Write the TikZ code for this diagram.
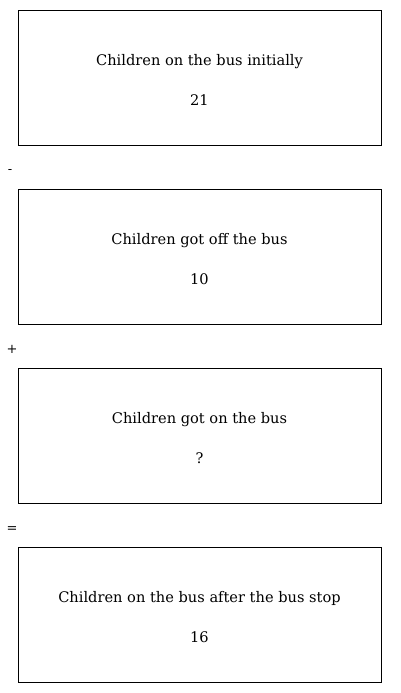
\documentclass[tikz,border=0pt]{standalone}
\usepackage{fontspec}
\setmainfont{DejaVu Serif}
\begin{document}
\begin{tikzpicture}[x=1pt,y=-1pt,
  box/.style={draw,line width=0.9pt,minimum width=363pt,minimum height=135pt,anchor=north west,inner sep=0pt},
  lbl/.style={font=\fontsize{14.6}{17}\selectfont,anchor=center,inner sep=0pt},
  op/.style={font=\fontsize{13}{15}\selectfont,anchor=center,inner sep=0pt}]
\useasboundingbox (0,0) rectangle (400,693);
\node[box] (b1) at (18,10) {};
\node[box] (b2) at (18,189) {};
\node[box] (b3) at (18,368) {};
\node[box] (b4) at (18,547) {};
\node[lbl] (t1) at (199.5,61.5) {Children on the bus initially};
\node[lbl] (n1) at (199.5,100) {21};
\node[lbl] (t2) at (199.5,240.5) {Children got off the bus};
\node[lbl] (n2) at (199.5,279) {10};
\node[lbl] (t3) at (199.5,419.5) {Children got on the bus};
\node[lbl] (n3) at (199.5,458) {?};
\node[lbl] (t4) at (199.5,598.5) {Children on the bus after the bus stop};
\node[lbl] (n4) at (199.5,637) {16};
\node[op] (o1) at (10,172) {-};
\node[op] (o2) at (12,349.5) {+};
\node[op] (o3) at (12,529.5) {=};
\end{tikzpicture}
\end{document}
